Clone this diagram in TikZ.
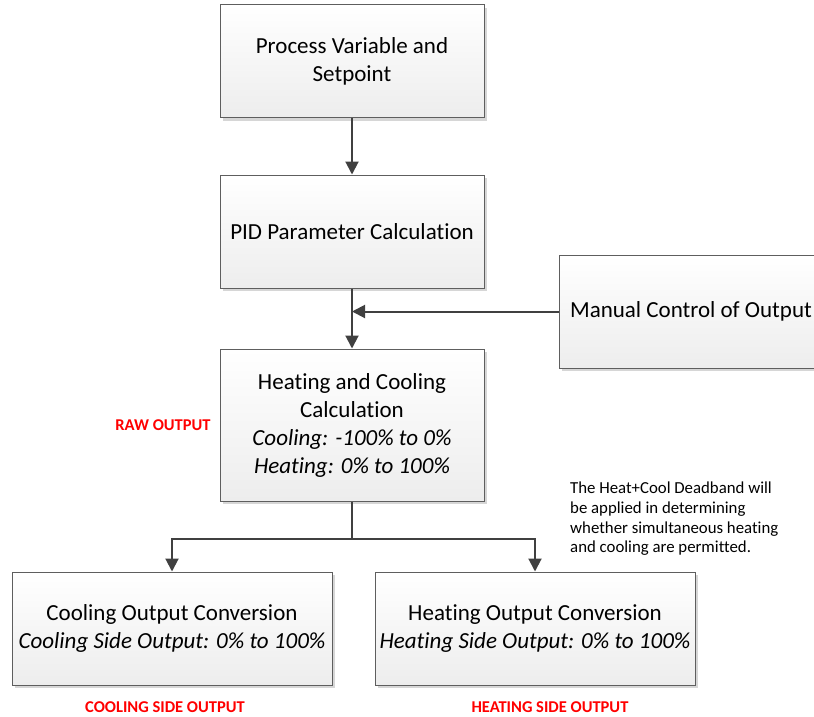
\documentclass[tikz,border=0pt]{standalone}
\usepackage{fontspec}
\setmainfont{Carlito}[Ligatures={NoCommon}]
\usetikzlibrary{arrows.meta,shadows,calc}
\definecolor{boxline}{HTML}{5E5E5E}
\definecolor{arrowc}{HTML}{404040}
\definecolor{boxbot}{HTML}{EDEDED}
\definecolor{shadowc}{HTML}{D6D6D6}
\tikzset{
  procbox/.style={draw=boxline, line width=1pt, top color=white, bottom color=boxbot,
    minimum width=264pt, minimum height=113pt, inner sep=0pt, align=center,
    font=\fontsize{23}{28}\selectfont,
    drop shadow={shadow xshift=3pt, shadow yshift=-3pt, fill=shadowc, opacity=1}},
  flow/.style={draw=arrowc, line width=2pt, -{Triangle[length=13pt,width=13pt]}},
  flowline/.style={draw=arrowc, line width=2pt},
  redlabel/.style={text=red, font=\fontsize{16.5}{20}\selectfont\bfseries, inner sep=0pt},
  notetext/.style={font=\fontsize{16.8}{19.6}\selectfont, align=left, inner sep=0pt}
}
\begin{document}
\begin{tikzpicture}[x=1pt,y=-1pt]
\useasboundingbox (0,0) rectangle (814,716);
\clip (0,0) rectangle (814,716);
\node[procbox] (pv) at (352,61) {Process Variable and\\Setpoint};
\node[procbox] (pid) at (352,231.5) {PID Parameter Calculation};
\node[procbox] (man) at (691,311.5) {Manual Control of Output};
\node[procbox, minimum height=152pt] (hc) at (352,425)
  {Heating and Cooling\\Calculation\\\textit{Cooling: -100\% to 0\%}\\\textit{Heating: 0\% to 100\%}};
\node[procbox, minimum width=320pt] (cool) at (172,628.5)
  {Cooling Output Conversion\\\textit{Cooling Side Output: 0\% to 100\%}};
\node[procbox, minimum width=320pt] (heat) at (535,628.5)
  {Heating Output Conversion\\\textit{Heating Side Output: 0\% to 100\%}};
\node[redlabel] (raw) at (163,425) {RAW OUTPUT};
\node[redlabel] (cso) at (165,707) {COOLING SIDE OUTPUT};
\node[redlabel] (hso) at (550,707) {HEATING SIDE OUTPUT};
\node[notetext, anchor=north west] (note) at (570,482)
  {The Heat+Cool Deadband will\\be applied in determining\\whether simultaneous heating\\and cooling are permitted.};
\coordinate (join) at (pid.south |- man.west);
\coordinate (split) at ($(hc.south)+(0,37)$);
\draw[flow] (pv.south) -- (pid.north);
\draw[flow] (pid.south) -- (hc.north);
\draw[flow] (man.west) -- (join);
\draw[flowline] (hc.south) -- (split);
\draw[flow] (split) -| (cool.north);
\draw[flow] (split) -| (heat.north);
\end{tikzpicture}
\end{document}
